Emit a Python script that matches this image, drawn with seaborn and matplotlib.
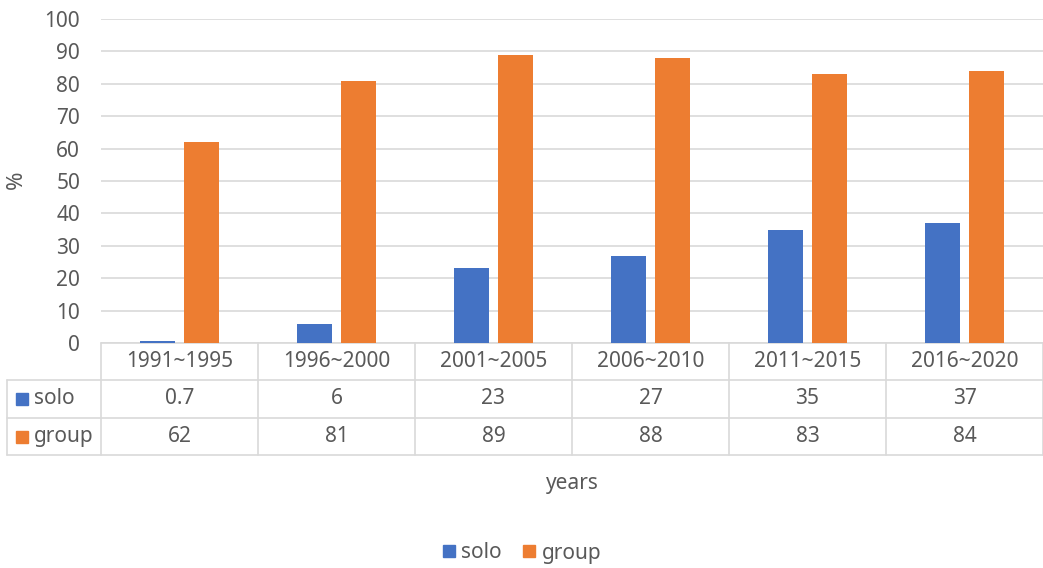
import matplotlib
matplotlib.use('Agg')
import matplotlib.pyplot as plt
import matplotlib.transforms as mtransforms
from matplotlib.lines import Line2D
import seaborn as sns
import pandas as pd

periods = ["1991~1995", "1996~2000", "2001~2005", "2006~2010", "2011~2015", "2016~2020"]
solo = [0.7, 6, 23, 27, 35, 37]
group = [62, 81, 89, 88, 83, 84]
solo_labels = ["0.7", "6", "23", "27", "35", "37"]
group_labels = ["62", "81", "89", "88", "83", "84"]
series = ["solo", "group"]
yticks = list(range(0, 101, 10))

palette = {"solo": "#4472C4", "group": "#ED7D31"}
TXT = "#595959"
GRID = "#D9D9D9"
FS = 15

sns.set_theme(style="white")
plt.rcParams['font.family'] = ['Noto Sans', 'DejaVu Sans']

df = pd.DataFrame({
    "period": periods * 2,
    "value": solo + group,
    "series": [series[0]] * len(periods) + [series[1]] * len(periods),
})

W, H = 1043, 568
fig = plt.figure(figsize=(W / 100, H / 100), dpi=100)


def fx(px):
    return px / W


def fy(py):
    return 1 - py / H


ax = fig.add_axes([fx(101), fy(343), fx(1043) - fx(101), fy(19) - fy(343)])
sns.barplot(data=df, x="period", y="value", hue="series", hue_order=series,
            palette=palette, width=0.56, gap=0.2, ax=ax, legend=False,
            saturation=1, errorbar=None, zorder=3, linewidth=0)

ax.set_xlim(-0.5, len(periods) - 0.5)
ax.set_ylim(0, 100)
ax.set_yticks(yticks)
ax.set_yticklabels([str(t) for t in yticks], color=TXT, fontsize=FS)
ax.tick_params(axis='y', length=0, pad=15)
ax.set_xticks([])
ax.set_xlabel("")
ax.set_ylabel("")
for s in ax.spines.values():
    s.set_visible(False)
ax.grid(axis='y', color=GRID, linewidth=1.2, zorder=0)
ax.set_axisbelow(True)

# Data table
tr = mtransforms.blended_transform_factory(ax.transData, fig.transFigure)
ftr = fig.transFigure
row_tops = [343, 380, 418, 455]
lw = 1.2
ax.add_artist(Line2D([-0.5, len(periods) - 0.5], [fy(343)] * 2, transform=tr,
                     color=GRID, lw=lw, clip_on=False))
for py in row_tops[1:]:
    fig.add_artist(Line2D([fx(7), fx(1043)], [fy(py)] * 2, transform=ftr,
                          color=GRID, lw=lw))
for k in range(len(periods) + 1):
    ax.add_artist(Line2D([k - 0.5, k - 0.5], [fy(343), fy(455)], transform=tr,
                         color=GRID, lw=lw, clip_on=False))
fig.add_artist(Line2D([fx(7), fx(7)], [fy(380), fy(455)], transform=ftr,
                      color=GRID, lw=lw))

row_centers = [(row_tops[i] + row_tops[i + 1]) / 2 for i in range(3)]
for i, p in enumerate(periods):
    ax.text(i, fy(row_centers[0]), p, transform=tr, ha='center', va='center',
            color=TXT, fontsize=FS)
    ax.text(i, fy(row_centers[1]), solo_labels[i], transform=tr, ha='center',
            va='center', color=TXT, fontsize=FS)
    ax.text(i, fy(row_centers[2]), group_labels[i], transform=tr, ha='center',
            va='center', color=TXT, fontsize=FS)

for j, name in enumerate(series):
    yc = row_centers[j + 1]
    fig.add_artist(Line2D([fx(22)], [fy(yc)], marker='s', markersize=9,
                          color=palette[name], transform=ftr, lw=0))
    fig.text(fx(34), fy(yc), name, ha='left', va='center', color=TXT, fontsize=FS)

# axis titles
fig.text(fx(16), fy(180), "%", rotation=90, ha='center', va='center',
         color=TXT, fontsize=FS + 1)
fig.text(fx(572), fy(484), "years", ha='center', va='center', color=TXT,
         fontsize=FS)

handles = [Line2D([], [], marker='s', markersize=9, color=palette[s], lw=0)
           for s in series]
fig.legend(handles, series, loc='center', bbox_to_anchor=(fx(522), fy(553)),
           ncol=2, frameon=False, fontsize=FS, labelcolor=TXT,
           handlelength=0.6, handletextpad=0.3, columnspacing=1.0)

fig.savefig("out.png", dpi=100)
